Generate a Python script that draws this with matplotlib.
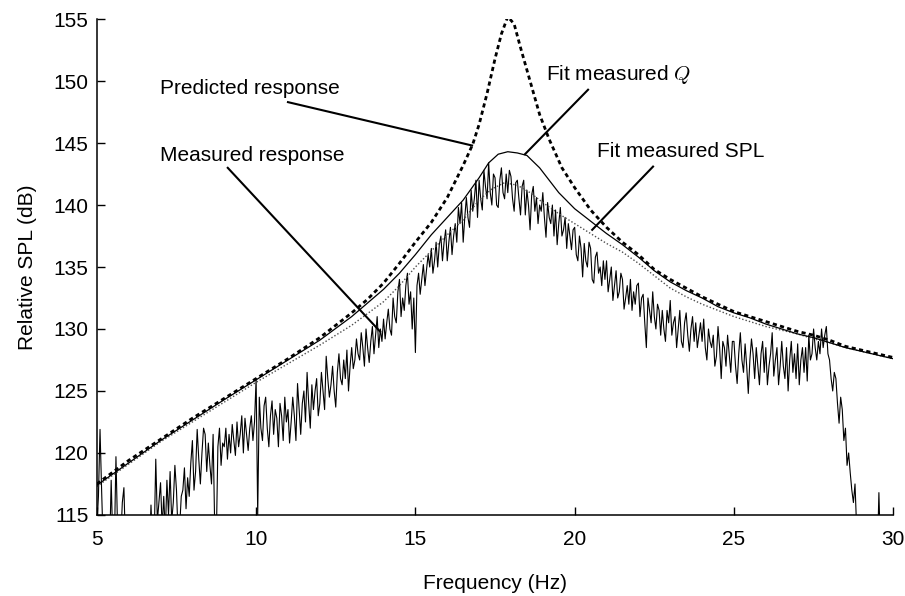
import numpy as np
import matplotlib
matplotlib.use('Agg')
import matplotlib.pyplot as plt

plt.rcParams['font.family'] = ['Liberation Sans', 'DejaVu Sans']
plt.rcParams['mathtext.fontset'] = 'cm'

#measured response, read every 0.05 Hz from 5 to 30 Hz (one row per Hz)
meas_freq = np.arange(501) * 0.05 + 5.0
meas_spl = [
    114.0, 116.5, 121.9, 117.0, 112.5, 113.0, 111.0, 114.5, 112.0, 117.8, 113.0, 112.5, 119.7, 114.0, 111.5, 113.0, 116.0, 117.2, 112.5, 111.0,
    113.0, 110.5, 112.0, 114.0, 111.5, 112.8, 110.0, 113.5, 114.2, 111.0, 112.5, 113.8, 110.5, 112.0, 115.8, 112.5, 113.0, 119.5, 114.5, 116.0,
    117.6, 114.0, 116.5, 113.5, 117.8, 115.0, 118.5, 114.5, 116.0, 119.0, 117.0, 113.5, 114.0, 116.5, 117.0, 118.8, 115.5, 118.0, 116.5, 119.2,
    121.0, 117.0, 118.5, 121.9, 119.5, 117.5, 120.0, 122.0, 121.5, 118.5, 120.8, 119.0, 117.5, 121.5, 114.0, 113.0, 120.5, 122.0, 119.0, 120.8,
    120.5, 122.0, 119.5, 121.5, 120.0, 122.3, 121.0, 119.8, 122.5, 120.5, 121.5, 123.0, 120.0, 122.8, 121.5, 120.2, 122.0, 123.0, 121.0, 122.5,
    126.0, 115.0, 124.5, 122.0, 121.0, 123.8, 124.5, 122.0, 120.5, 123.0, 124.2, 121.5, 123.5, 122.8, 120.5, 124.0, 123.0, 121.0, 124.5, 122.5,
    123.5, 120.8, 122.5, 124.5, 123.0, 121.0, 125.6, 123.5, 121.5, 124.0, 125.0, 122.5, 126.5, 124.0, 122.0, 125.5, 123.5, 125.0, 126.0, 123.0,
    124.0, 126.5, 125.0, 123.5, 127.8, 126.0, 124.5, 125.5, 127.0, 125.0, 123.7, 126.5, 128.0, 126.0, 125.5, 127.5, 126.0, 128.3, 125.0, 127.0,
    128.5, 126.8, 127.5, 129.2, 128.0, 127.5, 129.7, 128.5, 127.0, 130.0, 128.5, 127.3, 129.0, 130.2, 128.0, 129.5, 131.0, 128.5, 130.0, 129.0,
    130.8, 129.2, 130.5, 131.6, 130.0, 129.5, 132.5, 131.0, 130.5, 133.0, 134.0, 131.0, 132.5, 131.5, 133.5, 134.5, 132.0, 133.0, 130.0, 132.5,
    128.1, 133.5, 134.5, 132.8, 134.0, 135.2, 133.5, 134.8, 136.0, 135.0, 136.5, 134.5, 135.5, 137.0, 135.0, 136.8, 137.5, 135.5, 137.0, 138.0,
    135.5, 137.0, 138.2, 136.0, 137.5, 138.5, 137.0, 139.8, 138.5, 140.2, 137.0, 139.0, 140.6, 139.0, 138.2, 141.2, 139.5, 140.5, 142.0, 139.0,
    142.0, 140.5, 139.6, 142.8, 141.5, 140.5, 143.4, 141.0, 140.0, 142.5, 142.2, 140.0, 139.8, 142.0, 143.0, 141.0, 140.5, 142.5, 141.0, 142.8,
    142.3, 140.5, 139.5, 141.8, 142.0, 140.5, 139.2, 141.5, 142.0, 139.2, 141.2, 140.0, 138.0, 140.8, 141.5, 139.5, 140.6, 138.5, 140.0, 139.5,
    141.0, 139.0, 137.4, 140.2, 139.0, 138.5, 140.0, 137.5, 139.6, 136.8, 138.5, 139.8, 137.5, 138.0, 139.0, 136.5, 138.5, 137.5, 136.4, 138.0,
    138.2, 136.0, 135.5, 137.5, 136.5, 134.2, 136.9, 135.5, 135.0, 137.0, 136.5, 134.0, 133.7, 135.8, 136.2, 134.5, 135.0, 133.5, 135.5, 134.0,
    135.5, 133.0, 134.0, 135.0, 132.3, 133.5, 134.7, 132.5, 133.0, 134.5, 134.0, 131.6, 132.5, 133.5, 132.0, 134.0, 131.5, 133.0, 132.0, 133.5,
    133.7, 131.0, 132.5, 132.8, 130.5, 128.5, 132.5, 131.5, 130.5, 133.0, 131.0, 130.0, 132.0, 131.5, 129.5, 131.5, 130.0, 129.0, 131.5, 130.5,
    132.3, 129.5, 130.5, 131.0, 128.5, 130.0, 131.5, 129.0, 128.5, 130.5, 131.3, 129.5, 128.2, 130.0, 131.0, 129.0, 130.5, 128.5, 129.5, 130.5,
    129.0, 130.8, 128.5, 127.5, 130.0, 129.0, 128.5, 129.5, 127.0, 127.8, 130.2, 128.5, 126.0, 129.0, 128.5, 127.0, 129.5, 128.0, 126.5, 129.0,
    129.0, 127.0, 125.6, 128.0, 129.7, 127.5, 126.5, 128.8, 127.0, 124.8, 127.5, 129.2, 128.0, 126.0, 128.5, 127.0, 125.5, 128.0, 129.0, 126.5,
    128.5, 125.5, 127.0, 128.0, 129.7, 126.2, 127.5, 128.5, 125.5, 127.0, 129.0, 127.0, 126.0, 128.5, 125.0, 127.5, 129.0, 126.5, 128.0, 126.0,
    128.8, 125.5, 127.5, 128.5, 126.5, 128.5, 125.8, 129.5, 127.5, 128.0, 130.0, 128.5, 127.5, 129.0, 128.0, 130.0, 128.5, 129.5, 130.2, 128.0,
    127.5, 126.0, 125.0, 126.5, 126.0, 124.0, 122.4, 124.5, 123.5, 121.0, 122.0, 119.0, 120.0, 118.4, 117.0, 116.0, 117.5, 114.0, 113.5, 112.5,
    112.0, 113.5, 110.0, 111.5, 112.5, 110.5, 111.0, 112.0, 113.0, 110.5, 111.5, 116.8, 112.0, 110.0, 111.0, 112.5, 110.5, 111.0, 110.5, 112.0,
    111.0,
]

#predicted response
pred_freq = [5.0, 6.0, 7.0, 8.0, 9.0, 10.0, 11.0, 12.0, 13.0, 13.5, 14.0, 14.5,
             15.0, 15.5, 16.0, 16.5, 16.8, 17.0, 17.25, 17.5, 17.7, 17.9, 18.1,
             18.3, 18.6, 18.9, 19.2, 19.6, 20.0, 20.5, 21.0, 21.5, 22.0, 22.5,
             23.0, 23.5, 24.0, 24.5, 25.0, 25.5, 26.0, 26.5, 27.0, 27.5, 28.0,
             28.5, 29.0, 29.5, 30.0]
pred_spl = [117.5, 119.4, 121.1, 122.8, 124.4, 126.0, 127.6, 129.3, 131.3, 132.4,
            133.7, 135.3, 137.0, 138.6, 140.6, 143.2, 144.9, 146.5, 149.0, 151.8,
            153.8, 155.2, 154.6, 152.7, 150.0, 147.3, 145.3, 143.0, 141.4, 139.6,
            138.2, 137.0, 136.0, 134.8, 134.0, 133.3, 132.6, 132.0, 131.4, 131.0,
            130.6, 130.2, 129.8, 129.5, 129.1, 128.6, 128.3, 128.0, 127.7]

#fit to measured Q
fitq_freq = [5.0, 7.0, 9.0, 10.0, 11.0, 12.0, 13.0, 14.0, 14.5, 15.0, 15.5, 16.0,
             16.5, 17.0, 17.3, 17.6, 17.9, 18.2, 18.5, 18.9, 19.2, 19.5, 20.0,
             20.5, 21.0, 21.5, 22.0, 22.5, 23.0, 23.5, 24.0, 24.5, 25.0, 25.5,
             26.0, 26.5, 27.0, 27.5, 28.0, 28.5, 29.0, 29.5, 30.0]
fitq_spl = [117.4, 121.0, 124.3, 125.9, 127.5, 129.1, 131.0, 133.2, 134.5, 136.0,
            137.6, 139.0, 140.4, 142.2, 143.4, 144.1, 144.3, 144.2, 144.0, 143.0,
            142.0, 141.0, 139.7, 138.7, 137.7, 136.8, 135.8, 134.7, 133.8, 133.1,
            132.5, 131.8, 131.3, 130.9, 130.4, 130.0, 129.6, 129.3, 128.9, 128.5,
            128.2, 127.9, 127.6]

#fit to measured SPL
fits_freq = [5.0, 7.0, 9.0, 10.0, 11.0, 12.0, 13.0, 14.0, 14.5, 15.0, 15.5, 16.0,
             16.5, 17.0, 17.4, 17.8, 18.2, 18.6, 19.0, 19.5, 20.0, 20.5, 21.0,
             21.5, 22.0, 22.5, 23.0, 23.5, 24.0, 24.5, 25.0, 25.5, 26.0, 26.5,
             27.0, 27.5, 28.0, 28.5, 29.0, 29.5, 30.0]
fits_spl = [117.3, 120.9, 124.1, 125.7, 127.2, 128.7, 130.3, 132.2, 133.5, 135.0,
            136.3, 137.6, 138.8, 140.4, 141.3, 141.8, 141.6, 141.0, 140.2, 139.3,
            138.5, 137.7, 136.9, 136.2, 135.3, 134.3, 133.3, 132.6, 132.0, 131.5,
            131.0, 130.6, 130.2, 129.9, 129.6, 129.2, 128.9, 128.5, 128.2, 127.9,
            127.6]

fig = plt.figure(figsize=(9.05, 5.96), dpi=100)
ax = fig.add_axes([0.107, 0.136, 0.880, 0.832])

ax.plot(meas_freq, meas_spl, color='black', lw=0.8)
ax.plot(fits_freq, fits_spl, color='0.3', lw=1.0, linestyle=(0, (1, 1.5)))
ax.plot(fitq_freq, fitq_spl, color='black', lw=0.9)
ax.plot(pred_freq, pred_spl, color='black', lw=2.0, linestyle=(0, (1.5, 1.2)))

#labels with leader lines
ax.text(6.98, 149.4, 'Predicted response', fontsize=15, va='center')
ax.plot([11.0, 16.78], [148.3, 144.8], color='black', lw=1.5)
ax.text(6.98, 144.0, 'Measured response', fontsize=15, va='center')
ax.plot([9.11, 13.89], [143.0, 129.8], color='black', lw=1.5)
ax.text(19.1, 150.5, 'Fit measured $Q$', fontsize=15, va='center')
ax.plot([20.42, 18.44], [149.3, 144.1], color='black', lw=1.5)
ax.text(20.7, 144.3, 'Fit measured SPL', fontsize=15, va='center')
ax.plot([22.46, 20.55], [143.1, 138.0], color='black', lw=1.5)

ax.set_xlim(5, 30)
ax.set_ylim(115, 155)
ax.set_xticks([5, 10, 15, 20, 25, 30])
ax.set_yticks([115, 120, 125, 130, 135, 140, 145, 150, 155])
ax.spines['top'].set_visible(False)
ax.spines['right'].set_visible(False)
ax.spines['left'].set_linewidth(1.1)
ax.spines['bottom'].set_linewidth(1.1)
ax.tick_params(axis='both', direction='in', length=6, width=1, labelsize=15)
ax.tick_params(axis='x', pad=11)
ax.tick_params(axis='y', pad=6)
ax.set_xlabel('Frequency (Hz)', fontsize=15, labelpad=18)
ax.set_ylabel('Relative SPL (dB)', fontsize=15, labelpad=12)

fig.savefig('out.png', dpi=100)
